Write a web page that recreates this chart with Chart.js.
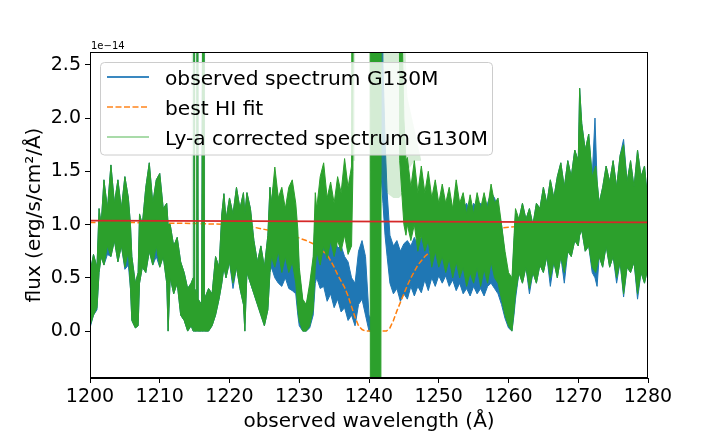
<!DOCTYPE html>
<html>
<head>
<meta charset="utf-8">
<script src="https://cdn.jsdelivr.net/npm/chart.js@4.4.1/dist/chart.umd.min.js"></script>
<style>
  html, body { margin: 0; padding: 0; background: #fff; }
  canvas { display: block; }
</style>
</head>
<body>
<canvas id="c" width="720" height="432" style="width:720px;height:432px"></canvas>
<script>
// ---------------- data (flux in units of 1e-14 erg/s/cm2/A) ----------------
const xTicks = [1200, 1210, 1220, 1230, 1240, 1250, 1260, 1270, 1280];
const yTicks = [0.0, 0.5, 1.0, 1.5, 2.0, 2.5];

// Ly-a corrected spectrum G130M : envelope of the dense noisy trace
const corrWave = [1200.0,1200.5,1201.0,1201.3,1201.6,1202.0,1202.5,1203.0,1203.5,1204.0,1204.5,1205.0,1205.5,1205.8,1206.0,1206.5,1206.9,1207.1,1207.5,1208.0,1208.5,1209.0,1209.5,1210.0,1210.5,1211.0,1211.2,1211.5,1212.0,1212.5,1213.0,1213.5,1214.0,1214.5,1214.8,1214.9,1215.0,1215.3,1215.4,1215.5,1216.0,1216.3,1216.4,1217.0,1217.5,1218.0,1218.5,1218.9,1219.2,1219.5,1220.0,1220.5,1221.0,1221.5,1222.0,1222.2,1222.5,1223.0,1223.5,1224.0,1224.5,1225.0,1225.5,1225.8,1226.0,1226.5,1227.0,1227.5,1228.0,1228.5,1229.0,1229.5,1229.8,1230.0,1230.5,1231.0,1231.5,1232.0,1232.3,1232.5,1233.0,1233.5,1234.0,1234.5,1235.0,1235.5,1236.0,1236.5,1237.0,1237.5,1237.7,1237.8,1240.1,1240.2,1241.7,1241.8,1244.2,1244.4,1244.7,1245.0,1245.3,1245.5,1246.0,1246.5,1247.0,1247.5,1248.0,1248.5,1249.0,1249.5,1250.0,1250.5,1251.0,1251.5,1252.0,1252.5,1253.0,1253.5,1254.0,1254.5,1255.0,1255.5,1256.0,1256.5,1257.0,1257.5,1258.0,1258.5,1259.0,1259.5,1260.0,1260.5,1260.8,1261.0,1261.5,1262.0,1262.5,1263.0,1263.5,1264.0,1264.5,1265.0,1265.5,1266.0,1266.5,1267.0,1267.5,1268.0,1268.5,1269.0,1269.5,1270.0,1270.2,1270.5,1271.0,1271.5,1272.0,1272.5,1273.0,1273.5,1274.0,1274.5,1275.0,1275.5,1276.0,1276.5,1277.0,1277.5,1278.0,1278.5,1279.0,1279.5,1280.0];
const corrLo = [0.05,0.15,0.22,0.55,0.70,0.62,0.80,0.70,0.85,0.65,0.80,0.60,0.75,0.40,0.10,0.03,0.05,0.45,0.60,0.55,0.75,0.62,0.80,0.60,0.70,0.45,0.00,0.50,0.35,0.45,0.15,0.10,0.00,0.05,0.00,0.00,0.00,0.00,0.00,0.00,0.00,0.00,0.00,0.00,0.05,0.15,0.30,0.45,0.60,0.50,0.65,0.45,0.60,0.40,0.25,0.00,0.55,0.45,0.35,0.25,0.15,0.05,0.20,0.55,0.70,0.60,0.75,0.55,0.70,0.55,0.65,0.45,0.20,0.10,0.00,0.00,0.05,0.20,0.60,0.75,0.62,0.80,0.68,0.85,0.70,0.85,0.75,0.90,0.72,0.80,1.50,8,8,-1,-1,8,8,1.60,1.30,1.00,0.90,1.00,0.85,1.00,0.75,0.90,0.75,0.85,0.60,0.75,0.60,0.70,0.55,0.68,0.50,0.65,0.50,0.60,0.42,0.55,0.45,0.60,0.42,0.58,0.45,0.65,0.50,0.45,0.30,0.15,0.05,0.00,0.20,0.35,0.55,0.45,0.60,0.40,0.55,0.45,0.62,0.55,0.70,0.50,0.65,0.50,0.70,0.55,0.75,0.70,0.85,0.80,0.90,0.95,0.75,0.80,0.60,0.55,0.70,0.60,0.80,0.60,0.70,0.50,0.65,0.35,0.60,0.55,0.65,0.35,0.55,0.45,0.60];
const corrHi = [0.55,0.72,0.60,1.15,1.00,1.42,1.15,1.56,1.20,1.42,1.15,1.45,1.25,1.00,0.70,0.45,0.55,1.10,1.00,1.35,1.58,1.20,1.42,1.48,1.15,1.20,1.00,1.00,0.80,0.88,0.65,0.55,0.40,0.45,0.50,6,0.40,0.35,6,0.30,0.25,6,0.30,0.40,0.35,0.70,0.60,1.10,1.29,1.05,1.25,1.10,1.35,1.15,1.30,1.10,1.30,1.15,0.85,0.65,0.80,0.60,0.90,1.35,1.20,1.54,1.25,1.35,1.15,1.35,1.42,1.20,0.95,0.60,0.30,0.25,0.45,0.70,1.30,1.15,1.45,1.58,1.25,1.40,1.20,1.45,1.30,1.62,1.35,1.55,8,8,8,8,8,8,8,8,3.0,2.0,1.60,1.63,1.35,1.60,1.30,1.55,1.30,1.50,1.25,1.42,1.20,1.38,1.20,1.35,1.15,1.42,1.20,1.30,1.10,1.28,1.10,1.30,1.15,1.30,1.15,1.38,1.20,1.25,1.00,0.75,0.55,0.50,0.90,1.15,1.05,1.20,1.05,1.15,1.00,1.20,1.15,1.35,1.20,1.42,1.25,1.45,1.58,1.35,1.60,1.45,1.70,1.60,2.28,1.95,1.70,1.85,1.45,1.55,1.20,1.35,1.55,1.40,1.60,1.35,1.65,1.75,1.40,1.60,1.35,1.70,1.45,1.55,1.20];

// sparse (faint) parts of the corrected spectrum
const corrSparseWave = [1214.55,1214.6,1215.6,1215.65,1216.05,1216.1,1216.5,1216.55,1237.45,1237.5,1238.0,1238.05,1241.65,1241.7,1242.5,1243.5,1244.3,1245.0,1245.5,1246.5,1247.5];
const corrSparseLo  = [8,0,0,8,8,0,0,8,8,1.6,1.6,8,8,1.5,1.3,1.25,1.25,1.3,1.5,1.6,1.6];
const corrSparseHi  = [8,8,8,8,8,8,8,8,8,8,8,8,8,8,8,8,8,3.0,2.2,1.9,1.6];

// observed spectrum G130M : envelope of the dense noisy trace
const obsWave = [1200.0,1200.5,1201.0,1201.3,1201.6,1202.0,1202.5,1203.0,1203.5,1204.0,1204.5,1205.0,1205.5,1205.8,1206.0,1206.5,1206.9,1207.1,1207.5,1208.0,1208.5,1209.0,1209.5,1210.0,1210.5,1211.0,1211.2,1211.5,1212.0,1212.5,1213.0,1213.5,1214.0,1214.5,1214.8,1214.9,1215.0,1215.3,1215.4,1215.5,1216.0,1216.3,1216.4,1217.0,1217.5,1218.0,1218.5,1218.9,1219.2,1219.5,1220.0,1220.5,1221.0,1221.5,1222.0,1222.2,1222.5,1223.0,1223.5,1224.0,1224.5,1225.0,1225.5,1225.8,1226.0,1226.5,1227.0,1227.5,1228.0,1228.5,1229.0,1229.5,1229.8,1230.0,1230.5,1231.0,1231.5,1232.0,1232.3,1232.5,1233.0,1233.5,1234.0,1234.5,1235.0,1235.5,1236.0,1236.5,1237.0,1237.5,1238.0,1238.5,1239.0,1239.5,1240.0,1240.5,1241.0,1241.5,1241.7,1242.0,1242.3,1242.6,1243.0,1243.5,1244.0,1244.5,1245.0,1245.5,1246.0,1246.5,1247.0,1247.5,1248.0,1248.5,1249.0,1249.5,1250.0,1250.5,1251.0,1251.5,1252.0,1252.5,1253.0,1253.5,1254.0,1254.5,1255.0,1255.5,1256.0,1256.5,1257.0,1257.5,1258.0,1258.5,1259.0,1259.5,1260.0,1260.5,1260.8,1261.0,1261.5,1262.0,1262.5,1263.0,1263.5,1264.0,1264.5,1265.0,1265.5,1266.0,1266.5,1267.0,1267.5,1268.0,1268.5,1269.0,1269.5,1270.0,1270.2,1270.5,1271.0,1271.5,1272.0,1272.4,1272.7,1273.0,1273.5,1274.0,1274.5,1275.0,1275.5,1276.0,1276.5,1277.0,1277.5,1278.0,1278.5,1279.0,1279.5,1280.0];
const obsLo = [0.03,0.15,0.20,0.55,0.70,0.62,0.72,0.70,0.85,0.65,0.80,0.58,0.62,0.40,0.10,0.03,0.05,0.45,0.60,0.55,0.75,0.62,0.70,0.60,0.70,0.45,0.00,0.50,0.35,0.45,0.15,0.10,0.00,0.05,0.00,0.00,0.00,0.00,0.00,0.00,0.00,0.00,0.00,0.00,0.05,0.15,0.30,0.45,0.60,0.50,0.65,0.40,0.60,0.40,0.25,0.00,0.55,0.45,0.35,0.25,0.15,0.05,0.20,0.55,0.60,0.50,0.45,0.42,0.50,0.40,0.38,0.35,0.15,0.05,0.00,0.00,0.03,0.15,0.45,0.50,0.40,0.42,0.28,0.35,0.22,0.30,0.18,0.22,0.10,0.15,0.05,0.25,0.30,0.15,0.00,0.00,0.00,0.80,1.50,1.20,0.90,0.70,0.45,0.35,0.40,0.28,0.35,0.30,0.42,0.33,0.42,0.36,0.48,0.38,0.50,0.42,0.52,0.45,0.52,0.42,0.48,0.38,0.45,0.35,0.40,0.33,0.42,0.35,0.40,0.33,0.42,0.45,0.40,0.35,0.25,0.12,0.03,0.00,0.16,0.30,0.55,0.45,0.60,0.35,0.55,0.45,0.62,0.55,0.70,0.42,0.65,0.50,0.70,0.45,0.75,0.70,0.85,0.80,0.90,0.95,0.75,0.80,0.55,0.50,0.42,0.70,0.60,0.80,0.60,0.70,0.45,0.65,0.32,0.60,0.55,0.65,0.30,0.55,0.45,0.60];
const obsHi = [0.55,0.72,0.60,1.15,1.00,1.42,1.15,1.56,1.20,1.42,1.15,1.45,1.25,1.00,0.70,0.45,0.55,1.10,1.00,1.35,1.58,1.20,1.42,1.48,1.15,1.20,1.00,1.00,0.80,0.88,0.65,0.55,0.40,0.45,0.50,6,0.40,0.35,6,0.30,0.25,6,0.30,0.40,0.35,0.70,0.60,1.10,1.29,1.05,1.25,1.10,1.35,1.15,1.30,1.10,1.30,1.15,0.85,0.65,0.80,0.60,0.90,1.35,1.20,1.45,1.20,1.25,1.10,1.25,1.30,1.10,0.85,0.55,0.28,0.24,0.40,0.65,1.10,1.00,1.10,1.00,0.95,0.85,0.90,0.78,0.80,0.70,0.65,0.50,0.45,0.75,0.85,0.70,0.15,0.10,0.40,3.00,6,2.50,1.80,1.30,0.90,0.80,0.85,0.75,0.82,0.85,0.80,0.88,0.80,0.88,0.90,0.95,0.95,1.00,1.05,1.00,1.05,1.10,1.10,1.20,1.15,1.15,1.20,1.10,1.20,1.15,1.20,1.15,1.20,1.30,1.25,1.15,1.00,0.70,0.50,0.45,0.85,1.10,1.05,1.20,1.05,1.15,1.00,1.20,1.15,1.35,1.20,1.42,1.25,1.45,1.58,1.35,1.60,1.45,1.70,1.60,2.28,1.95,1.70,1.85,1.45,2.00,1.40,1.20,1.35,1.55,1.40,1.60,1.35,1.65,1.80,1.40,1.60,1.35,1.70,1.45,1.55,1.20];

// best HI fit
const fitWave = [1200,1205,1210,1215,1218,1220,1222,1223.5,1225,1226.5,1228,1229.5,1231,1232,1233,1234,1235,1235.5,1236,1236.5,1237,1237.5,1238,1238.5,1239,1239.5,1242.5,1243,1243.5,1244,1244.5,1245,1245.5,1246,1246.5,1247,1247.5,1248,1249,1250,1251,1252,1254,1256,1258,1260,1263,1266,1270,1275,1280];
const fitFlux = [1.02,1.02,1.015,1.01,1.005,1.0,0.99,0.975,0.955,0.935,0.91,0.885,0.85,0.82,0.77,0.72,0.60,0.53,0.47,0.41,0.33,0.23,0.13,0.05,0.015,0.0,0.0,0.03,0.10,0.19,0.27,0.35,0.43,0.50,0.56,0.62,0.66,0.70,0.76,0.80,0.84,0.87,0.91,0.94,0.96,0.975,0.99,1.005,1.015,1.02,1.02];

// continuum
const contWave = [1200, 1280];
const contFlux = [1.037, 1.021];

// text
const labelObs = 'observed spectrum G130M';
const labelFit = 'best HI fit';
const labelCorr = 'Ly-a corrected spectrum G130M';
const xTitle = 'observed wavelength (Å)';
const yTitle = 'flux (erg/s/cm²/Å)';
const offsetText = '1e\u221214';

// ---------------- colours ----------------
const BLUE = '#1f77b4', ORANGE = '#ff7f0e', GREEN = '#2ca02c', RED = '#d62728';
const FONT = 'DejaVu Sans';

const pts = (w, v) => w.map((x, i) => ({ x: x, y: v[i] }));

const base = { pointRadius: 0, tension: 0, clip: 0, spanGaps: true };

const datasets = [
  Object.assign({}, base, { label: 'obsLo', data: pts(obsWave, obsLo), borderColor: BLUE, borderWidth: 1, fill: false, order: 9 }),
  Object.assign({}, base, { label: 'obsHi', data: pts(obsWave, obsHi), borderColor: BLUE, borderWidth: 1, fill: '-1', backgroundColor: BLUE, order: 8 }),
  Object.assign({}, base, { label: 'fit', data: pts(fitWave, fitFlux), borderColor: ORANGE, borderWidth: 1.5, borderDash: [5.5, 2.4], fill: false, order: 7 }),
  Object.assign({}, base, { label: 'sparseLo', data: pts(corrSparseWave, corrSparseLo), borderColor: 'rgba(44,160,44,0)', borderWidth: 0, fill: false, order: 6 }),
  Object.assign({}, base, { label: 'sparseHi', data: pts(corrSparseWave, corrSparseHi), borderColor: 'rgba(44,160,44,0)', borderWidth: 0, fill: '-1', backgroundColor: 'rgba(44,160,44,0.2)', order: 5 }),
  Object.assign({}, base, { label: 'corrLo', data: pts(corrWave, corrLo), borderColor: GREEN, borderWidth: 1, fill: false, order: 4 }),
  Object.assign({}, base, { label: 'corrHi', data: pts(corrWave, corrHi), borderColor: GREEN, borderWidth: 1, fill: '-1', backgroundColor: GREEN, order: 3 }),
  Object.assign({}, base, { label: 'continuum', data: pts(contWave, contFlux), borderColor: RED, borderWidth: 1.8, fill: false, order: 1 })
];

// ---------------- decoration plugin ----------------
const decor = {
  id: 'decor',
  afterDatasetsDraw(chart) {
    const ctx = chart.ctx, a = chart.chartArea;
    ctx.save();
    ctx.strokeStyle = '#000';
    ctx.lineWidth = 1;
    ctx.strokeRect(Math.round(a.left) + 0.5, Math.round(a.top) + 0.5, Math.round(a.right - a.left) - 1, Math.round(a.bottom - a.top) - 1);
    ctx.restore();
  },
  afterDraw(chart) {
    const ctx = chart.ctx, a = chart.chartArea;
    ctx.save();
    // legend box
    const lx = 100.5, ly = 62.5, lw = 392, lh = 92.5, r = 4;
    ctx.beginPath();
    ctx.moveTo(lx + r, ly);
    ctx.lineTo(lx + lw - r, ly); ctx.quadraticCurveTo(lx + lw, ly, lx + lw, ly + r);
    ctx.lineTo(lx + lw, ly + lh - r); ctx.quadraticCurveTo(lx + lw, ly + lh, lx + lw - r, ly + lh);
    ctx.lineTo(lx + r, ly + lh); ctx.quadraticCurveTo(lx, ly + lh, lx, ly + lh - r);
    ctx.lineTo(lx, ly + r); ctx.quadraticCurveTo(lx, ly, lx + r, ly);
    ctx.closePath();
    ctx.fillStyle = 'rgba(255,255,255,0.8)';
    ctx.fill();
    ctx.strokeStyle = '#cccccc';
    ctx.lineWidth = 1;
    ctx.stroke();

    const entries = [
      { text: labelObs, color: '#3a88c0', width: 2, dash: [], y: 77 },
      { text: labelFit, color: '#ffa354', width: 2, dash: [6, 2.5], y: 107 },
      { text: labelCorr, color: '#8ccf8c', width: 1.4, dash: [], y: 137 }
    ];
    ctx.font = '20.2px "' + FONT + '"';
    ctx.textAlign = 'left';
    ctx.textBaseline = 'alphabetic';
    entries.forEach(e => {
      ctx.beginPath();
      ctx.setLineDash(e.dash);
      ctx.strokeStyle = e.color;
      ctx.lineWidth = e.width;
      ctx.moveTo(107, e.y); ctx.lineTo(149, e.y);
      ctx.stroke();
      ctx.setLineDash([]);
      ctx.fillStyle = '#000';
      ctx.fillText(e.text, 165, e.y + 8);
    });

    // axis titles
    ctx.fillStyle = '#000';
    ctx.font = '20px "' + FONT + '"';
    ctx.textAlign = 'center';
    ctx.textBaseline = 'alphabetic';
    ctx.fillText(xTitle, (a.left + a.right) / 2, 427);
    ctx.save();
    ctx.translate(35, (a.top + a.bottom) / 2);
    ctx.rotate(-Math.PI / 2);
    ctx.textBaseline = 'middle';
    ctx.fillText(yTitle, 0, 0);
    ctx.restore();

    // offset text
    ctx.font = '10px "' + FONT + '"';
    ctx.textAlign = 'left';
    ctx.textBaseline = 'alphabetic';
    ctx.fillText(offsetText, 91, 48.5);
    ctx.restore();
  }
};

new Chart(document.getElementById('c').getContext('2d'), {
  type: 'line',
  data: { datasets: datasets },
  options: {
    responsive: false,
    animation: false,
    devicePixelRatio: 1,
    events: [],
    layout: { padding: { left: 0, right: 72, top: 52, bottom: 0 } },
    plugins: { legend: { display: false }, tooltip: { enabled: false }, title: { display: false } },
    scales: {
      x: {
        type: 'linear', min: 1200, max: 1280,
        afterBuildTicks: s => { s.ticks = xTicks.map(v => ({ value: v })); },
        afterFit: s => { s.height = 54; },
        ticks: { callback: v => String(v), color: '#000', font: { family: FONT, size: 19 }, padding: 3, maxRotation: 0, autoSkip: false },
        grid: { drawOnChartArea: false, drawTicks: true, tickLength: 5, color: '#000', lineWidth: 1 },
        border: { display: true, color: '#000', width: 1 }
      },
      y: {
        type: 'linear', min: -0.44, max: 2.62,
        afterBuildTicks: s => { s.ticks = yTicks.map(v => ({ value: v })); },
        afterFit: s => { s.width = 90; },
        ticks: { callback: v => Number(v).toFixed(1), color: '#000', font: { family: FONT, size: 19 }, padding: 4, autoSkip: false },
        grid: { drawOnChartArea: false, drawTicks: true, tickLength: 5, color: '#000', lineWidth: 1 },
        border: { display: true, color: '#000', width: 1 }
      }
    }
  },
  plugins: [decor]
});
</script>
</body>
</html>
